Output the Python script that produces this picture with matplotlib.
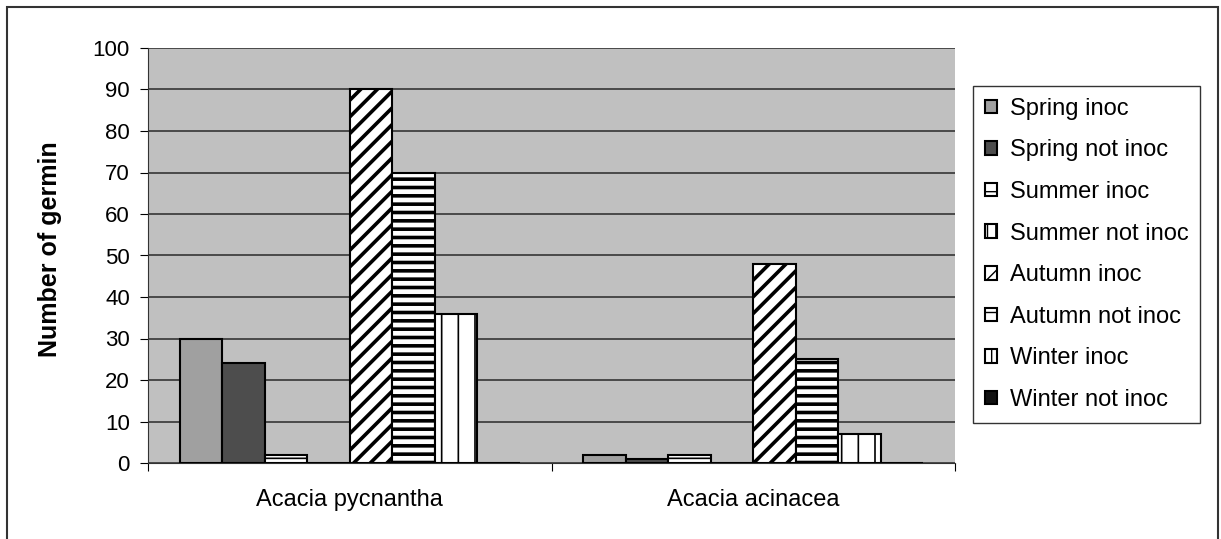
import matplotlib.pyplot as plt
import numpy as np
from matplotlib.patches import Rectangle

plt.rcParams['font.family'] = ['Liberation Sans', 'DejaVu Sans']

species = ['Acacia pycnantha', 'Acacia acinacea']
series = ['Spring inoc', 'Spring not inoc', 'Summer inoc', 'Summer not inoc',
          'Autumn inoc', 'Autumn not inoc', 'Winter inoc', 'Winter not inoc']
spring_inoc = [30, 2]
spring_not_inoc = [24, 1]
summer_inoc = [2, 2]
summer_not_inoc = [0, 0]
autumn_inoc = [90, 48]
autumn_not_inoc = [70, 25]
winter_inoc = [36, 7]
winter_not_inoc = [0, 0]
values = [spring_inoc, spring_not_inoc, summer_inoc, summer_not_inoc,
          autumn_inoc, autumn_not_inoc, winter_inoc, winter_not_inoc]

# look of each series: fill colour, hatch, hatch line width
styles = [('#a0a0a0', None, 1), ('#4d4d4d', None, 1), ('white', '-', 1.2),
          ('white', '||', 2.5), ('white', '//', 2.6), ('white', '--', 2.6),
          ('white', '|', 1.2), ('#111111', None, 1)]

fig = plt.figure(figsize=(12.21, 5.39), dpi=100)
ax = fig.add_axes([148 / 1221, 76 / 539, 807 / 1221, 415 / 539])
ax.set_facecolor('#c0c0c0')

x = np.arange(len(species))
w = 0.842 / len(series)
for i, (name, vals) in enumerate(zip(series, values)):
    fc, hatch, hlw = styles[i]
    with plt.rc_context({'hatch.linewidth': hlw}):
        ax.bar(x + (i - 3.5) * w, vals, w, color=fc, edgecolor='black',
               linewidth=1.5, hatch=hatch, label=name, zorder=3)

ax.set_xlim(-0.5, 1.5)
ax.set_ylim(0, 100)
ax.set_yticks(np.arange(0, 101, 10))
ax.yaxis.grid(True, color='#404040', linewidth=1.3, zorder=1)
ax.tick_params(axis='y', labelsize=16, length=6, pad=7, direction='out')

ax.set_xticks([-0.5, 0.5, 1.5])
ax.set_xticklabels([])
ax.set_xticks(x, minor=True)
ax.set_xticklabels(species, minor=True, fontsize=17)
ax.tick_params(axis='x', which='major', length=6, direction='out')
ax.tick_params(axis='x', which='minor', length=0, pad=19)

for s in ['top', 'right']:
    ax.spines[s].set_visible(False)
ax.spines['left'].set_color('#333333')
ax.spines['bottom'].set_color('#333333')

ax.set_ylabel('Number of germin', fontsize=18, fontweight='bold')
ax.yaxis.set_label_coords(-0.107, 0.515)

leg = fig.legend(loc='upper left', bbox_to_anchor=(973 / 1221, 453 / 539),
                 frameon=True, fancybox=False, edgecolor='black', fontsize=17,
                 handlelength=0.5, handleheight=0.5, handletextpad=0.55,
                 labelspacing=0.83, borderaxespad=0, borderpad=0.5)
leg.get_frame().set_linewidth(1.0)

fig.patches.append(Rectangle((7 / 1221, -0.1), 1211 / 1221, 1.1 - 7 / 539,
                             transform=fig.transFigure, fill=False,
                             edgecolor='#333333', linewidth=1.5))

fig.savefig('out.png', dpi=100)
